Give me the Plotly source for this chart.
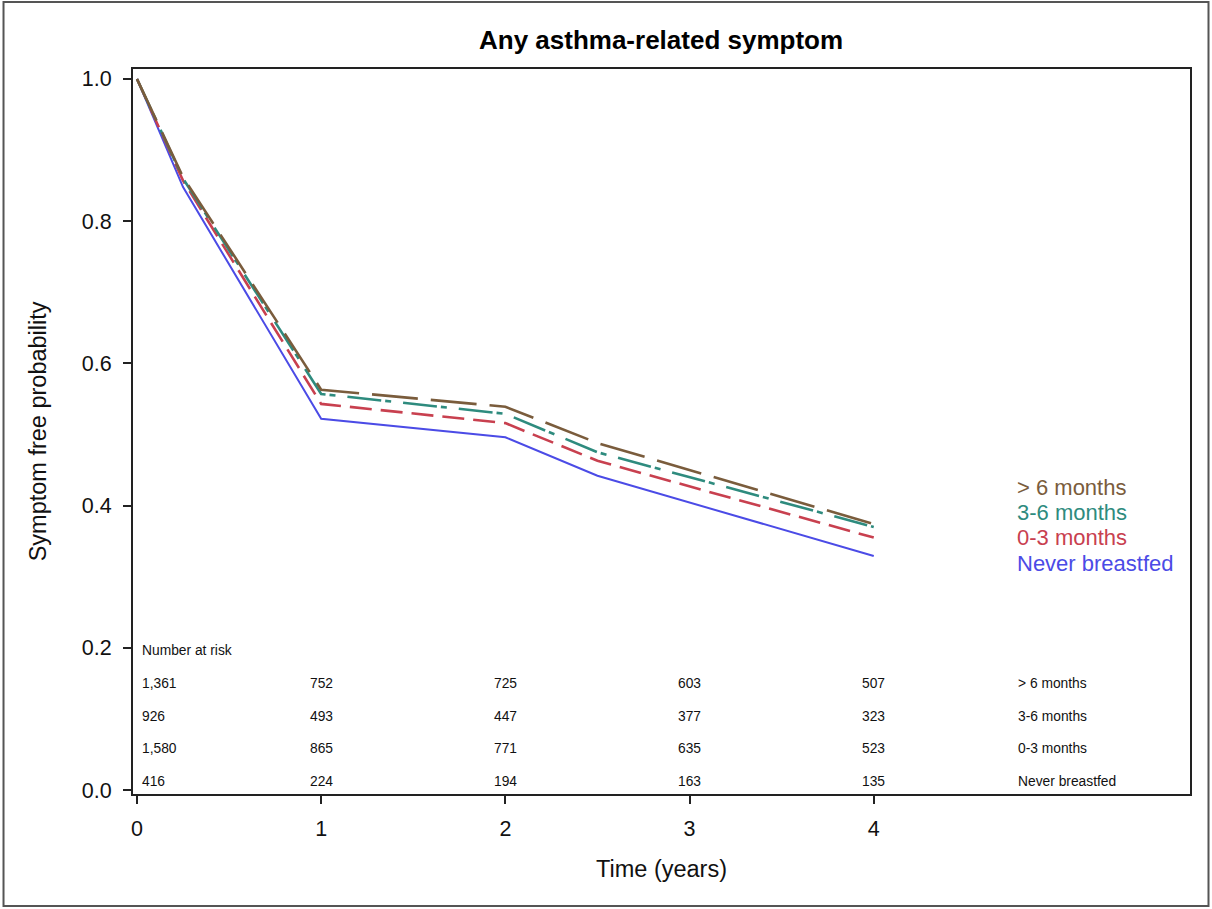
import plotly.graph_objects as go

# ---- data ----
time_years = [0, 0.25, 1, 2, 2.5, 4]
gt6_months = [1.0, 0.862, 0.563, 0.539, 0.488, 0.374]
m3_6_months = [1.0, 0.860, 0.557, 0.529, 0.475, 0.370]
m0_3_months = [1.0, 0.857, 0.543, 0.516, 0.463, 0.355]
never_bf = [1.0, 0.848, 0.522, 0.496, 0.442, 0.329]

group_labels = ["> 6 months", "3-6 months", "0-3 months", "Never breastfed"]
risk_times = [0, 1, 2, 3, 4]
risk_gt6 = ["1,361", "752", "725", "603", "507"]
risk_3_6 = ["926", "493", "447", "377", "323"]
risk_0_3 = ["1,580", "865", "771", "635", "523"]
risk_never = ["416", "224", "194", "163", "135"]

x_ticks = [0, 1, 2, 3, 4]
y_ticks = [0.0, 0.2, 0.4, 0.6, 0.8, 1.0]

colors = ["#7A5C3C", "#2E8B7E", "#C8404F", "#4B4BE6"]
dashes = ["46px,13px", "34px,4px,6px,12px", "22px,9px", "solid"]
widths = [2.6, 2.6, 2.6, 2.0]
series = [gt6_months, m3_6_months, m0_3_months, never_bf]
risk_rows = [risk_gt6, risk_3_6, risk_0_3, risk_never]

FONT = "Liberation Sans, Arial, sans-serif"
TABLE_SIZE = 13.8

fig = go.Figure()
# draw never breastfed first so dashed ones sit on top
for i in [3, 2, 1, 0]:
    fig.add_trace(go.Scatter(
        x=time_years, y=series[i], mode="lines", name=group_labels[i],
        line=dict(color=colors[i], width=widths[i], dash=dashes[i]),
        showlegend=False, hoverinfo="x+y+name"))

annotations = []
# legend text at right
legend_y0 = 0.426
legend_step = 0.0356
for i, lab in enumerate(group_labels):
    annotations.append(dict(
        x=4.767, y=legend_y0 - i * legend_step, xref="x", yref="y",
        text=lab, showarrow=False, xanchor="left", yanchor="middle",
        font=dict(family=FONT, size=22, color=colors[i])))

# number at risk table
annotations.append(dict(
    x=0, y=0.196, xref="x", yref="y", text="Number at risk", showarrow=False,
    xanchor="left", yanchor="middle", xshift=3,
    font=dict(family=FONT, size=TABLE_SIZE, color="#111")))
row_y = [0.150, 0.104, 0.058, 0.012]
for r, row in enumerate(risk_rows):
    for c, val in enumerate(row):
        t = risk_times[c]
        if c == 0:
            annotations.append(dict(
                x=t, y=row_y[r], xref="x", yref="y", text=val, showarrow=False,
                xanchor="left", yanchor="middle", xshift=3,
                font=dict(family=FONT, size=TABLE_SIZE, color="#111")))
        else:
            annotations.append(dict(
                x=t, y=row_y[r], xref="x", yref="y", text=val, showarrow=False,
                xanchor="center", yanchor="middle",
                font=dict(family=FONT, size=TABLE_SIZE, color="#111")))
    annotations.append(dict(
        x=4.775, y=row_y[r], xref="x", yref="y", text=group_labels[r],
        showarrow=False, xanchor="left", yanchor="middle",
        font=dict(family=FONT, size=TABLE_SIZE, color="#111")))

# axis titles
annotations.append(dict(
    x=0.5, y=-0.103, xref="paper", yref="paper", text="Time (years)",
    showarrow=False, xanchor="center", yanchor="middle",
    font=dict(family=FONT, size=23.5, color="#111")))
annotations.append(dict(
    x=-0.090, y=0.5, xref="paper", yref="paper", text="Symptom free probability",
    showarrow=False, xanchor="center", yanchor="middle", textangle=-90,
    font=dict(family=FONT, size=23.5, color="#111")))

fig.update_layout(
    width=1212, height=909,
    margin=dict(l=133, r=22, t=69, b=115),
    paper_bgcolor="white", plot_bgcolor="white",
    title=dict(text="<b>Any asthma-related symptom</b>", x=0.5454, xanchor="center",
               y=1 - 40 / 909, yanchor="middle",
               font=dict(family=FONT, size=26, color="#000")),
    font=dict(family=FONT, color="#111"),
    annotations=annotations,
    xaxis=dict(range=[-0.0217, 5.717], tickvals=x_ticks, ticktext=[str(v) for v in x_ticks],
               ticks="outside", ticklen=8, tickwidth=2, tickcolor="#222",
               showline=True, linecolor="#222", linewidth=2, mirror=True,
               showgrid=False, zeroline=False, ticklabelstandoff=6,
               tickfont=dict(family=FONT, size=21.5, color="#111")),
    yaxis=dict(range=[-0.0056, 1.014], tickvals=y_ticks, tickformat=".1f",
               ticks="outside", ticklen=8, tickwidth=2, tickcolor="#222",
               showline=True, linecolor="#222", linewidth=2, mirror=True,
               showgrid=False, zeroline=False, ticklabelstandoff=7,
               tickfont=dict(family=FONT, size=21.5, color="#111")),
    shapes=[dict(type="rect", xref="paper", yref="paper",
                 x0=-0.1225, x1=1.0175, y0=-0.1545, y1=1.0924,
                 line=dict(color="#555", width=2), fillcolor="rgba(0,0,0,0)",
                 layer="below")],
)

fig.write_html("out.html")
